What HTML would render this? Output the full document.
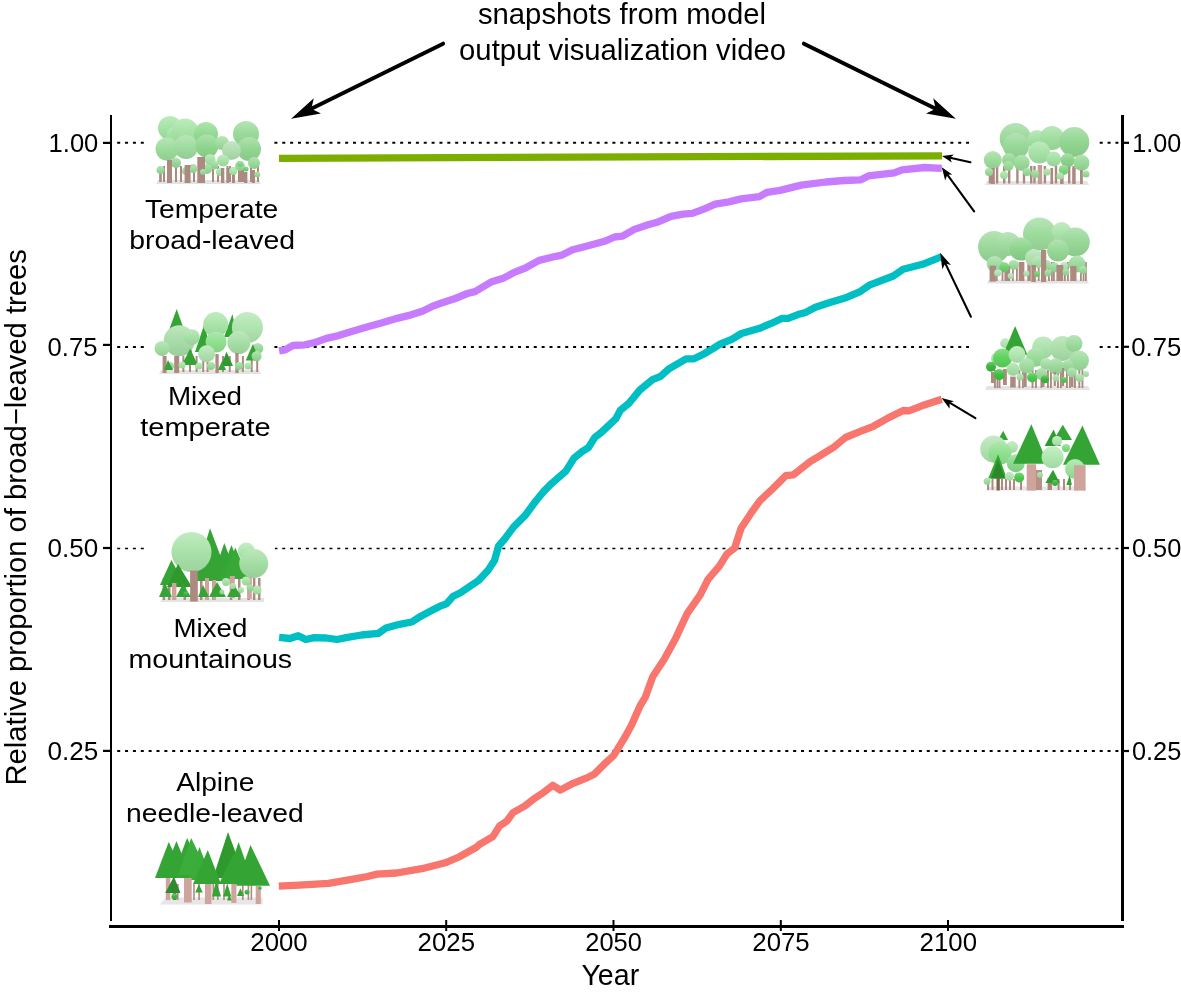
<!DOCTYPE html>
<html><head><meta charset="utf-8"><style>
html,body{margin:0;padding:0;background:#fff;width:1181px;height:999px;overflow:hidden}
svg{display:block;will-change:transform}
text{font-family:'Liberation Sans', sans-serif;fill:#000}
</style></head><body>
<svg width="1181" height="999" viewBox="0 0 1181 999">
<rect width="1181" height="999" fill="#fff"/>

<defs><linearGradient id="g3cb43c" x1="0" y1="0" x2="0" y2="1"><stop offset="0" stop-color="#72c972"/><stop offset="0.5" stop-color="#3cb43c"/><stop offset="1" stop-color="#37a737"/></linearGradient><linearGradient id="g3fc03f" x1="0" y1="0" x2="0" y2="1"><stop offset="0" stop-color="#74d174"/><stop offset="0.5" stop-color="#3fc03f"/><stop offset="1" stop-color="#3ab23a"/></linearGradient><linearGradient id="g4cc84c" x1="0" y1="0" x2="0" y2="1"><stop offset="0" stop-color="#7ed77e"/><stop offset="0.5" stop-color="#4cc84c"/><stop offset="1" stop-color="#46ba46"/></linearGradient><linearGradient id="g5cd35c" x1="0" y1="0" x2="0" y2="1"><stop offset="0" stop-color="#89df89"/><stop offset="0.5" stop-color="#5cd35c"/><stop offset="1" stop-color="#55c455"/></linearGradient><linearGradient id="g6cd36c" x1="0" y1="0" x2="0" y2="1"><stop offset="0" stop-color="#95df95"/><stop offset="0.5" stop-color="#6cd36c"/><stop offset="1" stop-color="#64c464"/></linearGradient><linearGradient id="g6fcf6f" x1="0" y1="0" x2="0" y2="1"><stop offset="0" stop-color="#97dc97"/><stop offset="0.5" stop-color="#6fcf6f"/><stop offset="1" stop-color="#67c067"/></linearGradient><linearGradient id="g7fd67f" x1="0" y1="0" x2="0" y2="1"><stop offset="0" stop-color="#a2e1a2"/><stop offset="0.5" stop-color="#7fd67f"/><stop offset="1" stop-color="#76c776"/></linearGradient><linearGradient id="g7fdc7f" x1="0" y1="0" x2="0" y2="1"><stop offset="0" stop-color="#a2e5a2"/><stop offset="0.5" stop-color="#7fdc7f"/><stop offset="1" stop-color="#76cc76"/></linearGradient><linearGradient id="g8cd28c" x1="0" y1="0" x2="0" y2="1"><stop offset="0" stop-color="#acdeac"/><stop offset="0.5" stop-color="#8cd28c"/><stop offset="1" stop-color="#82c382"/></linearGradient><linearGradient id="g8cd48c" x1="0" y1="0" x2="0" y2="1"><stop offset="0" stop-color="#ace0ac"/><stop offset="0.5" stop-color="#8cd48c"/><stop offset="1" stop-color="#82c582"/></linearGradient><linearGradient id="g8cd88c" x1="0" y1="0" x2="0" y2="1"><stop offset="0" stop-color="#ace2ac"/><stop offset="0.5" stop-color="#8cd88c"/><stop offset="1" stop-color="#82c882"/></linearGradient><linearGradient id="g8ee08e" x1="0" y1="0" x2="0" y2="1"><stop offset="0" stop-color="#ade8ad"/><stop offset="0.5" stop-color="#8ee08e"/><stop offset="1" stop-color="#84d084"/></linearGradient><linearGradient id="g8fd68f" x1="0" y1="0" x2="0" y2="1"><stop offset="0" stop-color="#aee1ae"/><stop offset="0.5" stop-color="#8fd68f"/><stop offset="1" stop-color="#84c784"/></linearGradient><linearGradient id="g8fe08f" x1="0" y1="0" x2="0" y2="1"><stop offset="0" stop-color="#aee8ae"/><stop offset="0.5" stop-color="#8fe08f"/><stop offset="1" stop-color="#84d084"/></linearGradient><linearGradient id="g92d692" x1="0" y1="0" x2="0" y2="1"><stop offset="0" stop-color="#b0e1b0"/><stop offset="0.5" stop-color="#92d692"/><stop offset="1" stop-color="#87c787"/></linearGradient><linearGradient id="g92da92" x1="0" y1="0" x2="0" y2="1"><stop offset="0" stop-color="#b0e4b0"/><stop offset="0.5" stop-color="#92da92"/><stop offset="1" stop-color="#87ca87"/></linearGradient><linearGradient id="g96d896" x1="0" y1="0" x2="0" y2="1"><stop offset="0" stop-color="#b3e2b3"/><stop offset="0.5" stop-color="#96d896"/><stop offset="1" stop-color="#8bc88b"/></linearGradient><linearGradient id="g97d897" x1="0" y1="0" x2="0" y2="1"><stop offset="0" stop-color="#b4e2b4"/><stop offset="0.5" stop-color="#97d897"/><stop offset="1" stop-color="#8cc88c"/></linearGradient><linearGradient id="g98d898" x1="0" y1="0" x2="0" y2="1"><stop offset="0" stop-color="#b4e2b4"/><stop offset="0.5" stop-color="#98d898"/><stop offset="1" stop-color="#8dc88d"/></linearGradient><linearGradient id="g98d998" x1="0" y1="0" x2="0" y2="1"><stop offset="0" stop-color="#b4e3b4"/><stop offset="0.5" stop-color="#98d998"/><stop offset="1" stop-color="#8dc98d"/></linearGradient><linearGradient id="g98da98" x1="0" y1="0" x2="0" y2="1"><stop offset="0" stop-color="#b4e4b4"/><stop offset="0.5" stop-color="#98da98"/><stop offset="1" stop-color="#8dca8d"/></linearGradient><linearGradient id="g99da99" x1="0" y1="0" x2="0" y2="1"><stop offset="0" stop-color="#b5e4b5"/><stop offset="0.5" stop-color="#99da99"/><stop offset="1" stop-color="#8eca8e"/></linearGradient><linearGradient id="g99dc99" x1="0" y1="0" x2="0" y2="1"><stop offset="0" stop-color="#b5e5b5"/><stop offset="0.5" stop-color="#99dc99"/><stop offset="1" stop-color="#8ecc8e"/></linearGradient><linearGradient id="g9ad99a" x1="0" y1="0" x2="0" y2="1"><stop offset="0" stop-color="#b6e3b6"/><stop offset="0.5" stop-color="#9ad99a"/><stop offset="1" stop-color="#8fc98f"/></linearGradient><linearGradient id="g9cda9c" x1="0" y1="0" x2="0" y2="1"><stop offset="0" stop-color="#b7e4b7"/><stop offset="0.5" stop-color="#9cda9c"/><stop offset="1" stop-color="#91ca91"/></linearGradient><linearGradient id="g9cdc9c" x1="0" y1="0" x2="0" y2="1"><stop offset="0" stop-color="#b7e5b7"/><stop offset="0.5" stop-color="#9cdc9c"/><stop offset="1" stop-color="#91cc91"/></linearGradient><linearGradient id="g9ddc9d" x1="0" y1="0" x2="0" y2="1"><stop offset="0" stop-color="#b8e5b8"/><stop offset="0.5" stop-color="#9ddc9d"/><stop offset="1" stop-color="#92cc92"/></linearGradient><linearGradient id="g9edc9e" x1="0" y1="0" x2="0" y2="1"><stop offset="0" stop-color="#b9e5b9"/><stop offset="0.5" stop-color="#9edc9e"/><stop offset="1" stop-color="#92cc92"/></linearGradient><linearGradient id="g9fdc9f" x1="0" y1="0" x2="0" y2="1"><stop offset="0" stop-color="#b9e5b9"/><stop offset="0.5" stop-color="#9fdc9f"/><stop offset="1" stop-color="#93cc93"/></linearGradient><linearGradient id="ga0dca0" x1="0" y1="0" x2="0" y2="1"><stop offset="0" stop-color="#bae5ba"/><stop offset="0.5" stop-color="#a0dca0"/><stop offset="1" stop-color="#94cc94"/></linearGradient><linearGradient id="ga0df9f" x1="0" y1="0" x2="0" y2="1"><stop offset="0" stop-color="#bae7b9"/><stop offset="0.5" stop-color="#a0df9f"/><stop offset="1" stop-color="#94cf93"/></linearGradient><linearGradient id="ga0e0a0" x1="0" y1="0" x2="0" y2="1"><stop offset="0" stop-color="#bae8ba"/><stop offset="0.5" stop-color="#a0e0a0"/><stop offset="1" stop-color="#94d094"/></linearGradient><linearGradient id="ga0e2a0" x1="0" y1="0" x2="0" y2="1"><stop offset="0" stop-color="#baeaba"/><stop offset="0.5" stop-color="#a0e2a0"/><stop offset="1" stop-color="#94d294"/></linearGradient><linearGradient id="ga2e0a2" x1="0" y1="0" x2="0" y2="1"><stop offset="0" stop-color="#bce8bc"/><stop offset="0.5" stop-color="#a2e0a2"/><stop offset="1" stop-color="#96d096"/></linearGradient><linearGradient id="ga3dea3" x1="0" y1="0" x2="0" y2="1"><stop offset="0" stop-color="#bce7bc"/><stop offset="0.5" stop-color="#a3dea3"/><stop offset="1" stop-color="#97ce97"/></linearGradient><linearGradient id="ga3e4a3" x1="0" y1="0" x2="0" y2="1"><stop offset="0" stop-color="#bcebbc"/><stop offset="0.5" stop-color="#a3e4a3"/><stop offset="1" stop-color="#97d497"/></linearGradient><linearGradient id="ga4dea4" x1="0" y1="0" x2="0" y2="1"><stop offset="0" stop-color="#bde7bd"/><stop offset="0.5" stop-color="#a4dea4"/><stop offset="1" stop-color="#98ce98"/></linearGradient><linearGradient id="ga4e0a4" x1="0" y1="0" x2="0" y2="1"><stop offset="0" stop-color="#bde8bd"/><stop offset="0.5" stop-color="#a4e0a4"/><stop offset="1" stop-color="#98d098"/></linearGradient><linearGradient id="ga5dfa5" x1="0" y1="0" x2="0" y2="1"><stop offset="0" stop-color="#bee7be"/><stop offset="0.5" stop-color="#a5dfa5"/><stop offset="1" stop-color="#99cf99"/></linearGradient><linearGradient id="ga5e0a5" x1="0" y1="0" x2="0" y2="1"><stop offset="0" stop-color="#bee8be"/><stop offset="0.5" stop-color="#a5e0a5"/><stop offset="1" stop-color="#99d099"/></linearGradient><linearGradient id="ga6e0a6" x1="0" y1="0" x2="0" y2="1"><stop offset="0" stop-color="#bee8be"/><stop offset="0.5" stop-color="#a6e0a6"/><stop offset="1" stop-color="#9ad09a"/></linearGradient><linearGradient id="ga6e2a6" x1="0" y1="0" x2="0" y2="1"><stop offset="0" stop-color="#beeabe"/><stop offset="0.5" stop-color="#a6e2a6"/><stop offset="1" stop-color="#9ad29a"/></linearGradient><linearGradient id="ga6e3a6" x1="0" y1="0" x2="0" y2="1"><stop offset="0" stop-color="#beeabe"/><stop offset="0.5" stop-color="#a6e3a6"/><stop offset="1" stop-color="#9ad39a"/></linearGradient><linearGradient id="ga8dca8" x1="0" y1="0" x2="0" y2="1"><stop offset="0" stop-color="#c0e5c0"/><stop offset="0.5" stop-color="#a8dca8"/><stop offset="1" stop-color="#9ccc9c"/></linearGradient><linearGradient id="ga8e0a8" x1="0" y1="0" x2="0" y2="1"><stop offset="0" stop-color="#c0e8c0"/><stop offset="0.5" stop-color="#a8e0a8"/><stop offset="1" stop-color="#9cd09c"/></linearGradient><linearGradient id="ga8e4a8" x1="0" y1="0" x2="0" y2="1"><stop offset="0" stop-color="#c0ebc0"/><stop offset="0.5" stop-color="#a8e4a8"/><stop offset="1" stop-color="#9cd49c"/></linearGradient><linearGradient id="ga9e2a9" x1="0" y1="0" x2="0" y2="1"><stop offset="0" stop-color="#c1eac1"/><stop offset="0.5" stop-color="#a9e2a9"/><stop offset="1" stop-color="#9dd29d"/></linearGradient><linearGradient id="gaadfaa" x1="0" y1="0" x2="0" y2="1"><stop offset="0" stop-color="#c1e7c1"/><stop offset="0.5" stop-color="#aadfaa"/><stop offset="1" stop-color="#9ecf9e"/></linearGradient><linearGradient id="gace2ac" x1="0" y1="0" x2="0" y2="1"><stop offset="0" stop-color="#c3eac3"/><stop offset="0.5" stop-color="#ace2ac"/><stop offset="1" stop-color="#9fd29f"/></linearGradient><linearGradient id="gace4ac" x1="0" y1="0" x2="0" y2="1"><stop offset="0" stop-color="#c3ebc3"/><stop offset="0.5" stop-color="#ace4ac"/><stop offset="1" stop-color="#9fd49f"/></linearGradient><linearGradient id="gb0ddb0" x1="0" y1="0" x2="0" y2="1"><stop offset="0" stop-color="#c6e6c6"/><stop offset="0.5" stop-color="#b0ddb0"/><stop offset="1" stop-color="#a3cda3"/></linearGradient><linearGradient id="gb0e0b0" x1="0" y1="0" x2="0" y2="1"><stop offset="0" stop-color="#c6e8c6"/><stop offset="0.5" stop-color="#b0e0b0"/><stop offset="1" stop-color="#a3d0a3"/></linearGradient><linearGradient id="gb0e2b0" x1="0" y1="0" x2="0" y2="1"><stop offset="0" stop-color="#c6eac6"/><stop offset="0.5" stop-color="#b0e2b0"/><stop offset="1" stop-color="#a3d2a3"/></linearGradient><linearGradient id="gb0e4b0" x1="0" y1="0" x2="0" y2="1"><stop offset="0" stop-color="#c6ebc6"/><stop offset="0.5" stop-color="#b0e4b0"/><stop offset="1" stop-color="#a3d4a3"/></linearGradient><linearGradient id="gb0e6b0" x1="0" y1="0" x2="0" y2="1"><stop offset="0" stop-color="#c6edc6"/><stop offset="0.5" stop-color="#b0e6b0"/><stop offset="1" stop-color="#a3d5a3"/></linearGradient><linearGradient id="gb0e8b0" x1="0" y1="0" x2="0" y2="1"><stop offset="0" stop-color="#c6eec6"/><stop offset="0.5" stop-color="#b0e8b0"/><stop offset="1" stop-color="#a3d7a3"/></linearGradient><linearGradient id="gb4e6b4" x1="0" y1="0" x2="0" y2="1"><stop offset="0" stop-color="#c9edc9"/><stop offset="0.5" stop-color="#b4e6b4"/><stop offset="1" stop-color="#a7d5a7"/></linearGradient></defs>
<line x1="117.2" y1="142.8" x2="1120" y2="142.8" stroke="#000" stroke-width="2" stroke-dasharray="3 4.86"/>
<line x1="117.2" y1="347" x2="1120" y2="347" stroke="#000" stroke-width="2" stroke-dasharray="3 4.86"/>
<line x1="117.2" y1="548.4" x2="1120" y2="548.4" stroke="#000" stroke-width="1.5" stroke-dasharray="3 4.86"/>
<line x1="117.2" y1="750.9" x2="1120" y2="750.9" stroke="#000" stroke-width="2" stroke-dasharray="3 4.86"/>
<rect x="145" y="118" width="129" height="70" fill="#fff"/>
<rect x="145" y="305" width="129" height="71" fill="#fff"/>
<rect x="145" y="525" width="130" height="79" fill="#fff"/>
<rect x="145" y="828" width="135" height="80" fill="#fff"/>
<rect x="969" y="118" width="130" height="70" fill="#fff"/>
<rect x="969" y="215" width="130" height="71" fill="#fff"/>
<rect x="969" y="322" width="130" height="70" fill="#fff"/>
<rect x="969" y="420" width="141" height="74" fill="#fff"/>
<g><polygon points="158,180 259,180 261,184 156,184" fill="#e3e3e3"/><rect x="159.5" y="166" width="2" height="16" fill="#ad8a80"/><rect x="163" y="166" width="2" height="16" fill="#ad8a80"/><rect x="175" y="166" width="2" height="16" fill="#ad8a80"/><rect x="180" y="166" width="2" height="16" fill="#ad8a80"/><rect x="193" y="166" width="2" height="16" fill="#ad8a80"/><rect x="212" y="166" width="2" height="16" fill="#ad8a80"/><rect x="217" y="166" width="2" height="16" fill="#ad8a80"/><rect x="226.5" y="166" width="2" height="16" fill="#ad8a80"/><rect x="229" y="166" width="2" height="16" fill="#ad8a80"/><rect x="238" y="166" width="2" height="16" fill="#ad8a80"/><rect x="240" y="166" width="2" height="16" fill="#ad8a80"/><rect x="242" y="166" width="2" height="16" fill="#ad8a80"/><rect x="250" y="166" width="2" height="16" fill="#ad8a80"/><rect x="257" y="166" width="2" height="16" fill="#ad8a80"/><circle cx="176" cy="163" r="5" fill="url(#g98da98)"/><circle cx="193" cy="168" r="4" fill="url(#g98da98)"/><circle cx="214" cy="165" r="4.5" fill="url(#ga6e3a6)"/><circle cx="207" cy="169" r="5" fill="url(#g98da98)"/><circle cx="233" cy="171" r="4" fill="url(#g98da98)"/><circle cx="240" cy="166" r="5" fill="url(#g98da98)"/><circle cx="186" cy="171" r="4" fill="url(#g98da98)"/><circle cx="220" cy="172" r="4" fill="url(#ga6e3a6)"/><circle cx="170" cy="128" r="12" fill="url(#ga3e4a3)"/><circle cx="176" cy="136" r="10" fill="url(#ga0e2a0)"/><circle cx="167" cy="149" r="11.5" fill="url(#g9cdc9c)"/><circle cx="185" cy="132" r="13.5" fill="url(#ga6e2a6)"/><circle cx="186" cy="147" r="12" fill="url(#g9edc9e)"/><circle cx="206" cy="134" r="12" fill="url(#g92da92)"/><circle cx="207" cy="146" r="11.5" fill="url(#g8fd68f)"/><circle cx="222" cy="143" r="7" fill="url(#ga0dca0)"/><circle cx="246" cy="134" r="13" fill="url(#g99da99)"/><circle cx="249" cy="149" r="12" fill="url(#g92d692)"/><circle cx="231.5" cy="150.5" r="9.5" fill="url(#gb0ddb0)"/><circle cx="210" cy="159.5" r="5.5" fill="url(#ga6e3a6)"/><circle cx="223" cy="160.5" r="6" fill="url(#ga6e3a6)"/><circle cx="254" cy="163" r="6" fill="url(#g98da98)"/><circle cx="175.8" cy="162.8" r="5" fill="url(#g96d896)"/><rect x="167" y="160" width="5" height="23" fill="#ad8a80"/><rect x="184.6" y="165" width="6" height="18" fill="#ad8a80"/><rect x="197.3" y="157" width="7.7" height="26" fill="#ad8a80"/><rect x="221" y="168" width="3.3" height="15" fill="#ad8a80"/><rect x="226.5" y="168" width="2.7" height="15" fill="#ad8a80"/><rect x="232" y="170" width="3" height="13" fill="#ad8a80"/><rect x="244" y="172" width="3.4" height="11" fill="#ad8a80"/><rect x="251.8" y="170" width="3.2" height="13" fill="#ad8a80"/><rect x="159.3" y="172" width="2.2" height="10" fill="#ad8a80"/><circle cx="160.5" cy="170" r="4" fill="url(#g98da98)"/><circle cx="233" cy="171.6" r="3.5" fill="url(#ga6e3a6)"/><circle cx="257.3" cy="174.4" r="3" fill="url(#g98da98)"/><circle cx="214.3" cy="165" r="3.5" fill="url(#g98da98)"/><circle cx="193.4" cy="169.4" r="3.5" fill="url(#g98da98)"/><circle cx="246" cy="169" r="2.5" fill="url(#g6cd36c)"/><circle cx="240" cy="164" r="3" fill="url(#g7fd67f)"/><circle cx="203" cy="172" r="3" fill="url(#g98da98)"/></g>
<g><polygon points="161,370 259,370 261,374 159,374" fill="#e3e3e3"/><rect x="182.4" y="356" width="2" height="16" fill="#ad8a80"/><rect x="189" y="356" width="2" height="16" fill="#ad8a80"/><rect x="195.6" y="356" width="2" height="16" fill="#ad8a80"/><rect x="202.2" y="356" width="2" height="16" fill="#ad8a80"/><rect x="206.6" y="356" width="2" height="16" fill="#ad8a80"/><rect x="222" y="356" width="2" height="16" fill="#ad8a80"/><rect x="228.7" y="356" width="2" height="16" fill="#ad8a80"/><rect x="241.9" y="356" width="2" height="16" fill="#ad8a80"/><rect x="250.7" y="356" width="2" height="16" fill="#ad8a80"/><rect x="256.2" y="356" width="2" height="16" fill="#ad8a80"/><polygon points="176.7,309 192,352 161,352" fill="#34a534"/><polygon points="204.4,324 211,352 195,352" fill="#34a534"/><polygon points="232.5,314 237,337 224,337" fill="#34a534"/><circle cx="215.7" cy="324.5" r="12.5" fill="url(#ga8e4a8)"/><circle cx="247.4" cy="327.5" r="15.5" fill="url(#gb0e4b0)"/><circle cx="179.2" cy="340.7" r="15.5" fill="url(#ga8dca8)"/><circle cx="191.8" cy="337.2" r="8" fill="url(#ga5e0a5)"/><circle cx="162" cy="348.4" r="7.5" fill="url(#ga3dea3)"/><circle cx="216" cy="342" r="10.5" fill="url(#g8fe08f)"/><circle cx="238.8" cy="342.6" r="11.5" fill="url(#ga5dfa5)"/><circle cx="257.8" cy="348.4" r="5.5" fill="url(#g98da98)"/><circle cx="206.6" cy="353.7" r="8.5" fill="url(#gb0e2b0)"/><rect x="162.6" y="356" width="4" height="17" fill="#ad8a80"/><rect x="174.2" y="356" width="5" height="17" fill="#ad8a80"/><rect x="215.4" y="354" width="3.3" height="19" fill="#ad8a80"/><rect x="235.3" y="353" width="3.3" height="20" fill="#ad8a80"/><polygon points="190.1,348.4 197.8,365 181.9,365" fill="#34a534"/><polygon points="226.5,351.7 233,366 221,366" fill="#2e9a2e"/><polygon points="252.9,344 259.5,360.5 245.7,360.5" fill="#34a534"/><circle cx="256.6" cy="356.1" r="5" fill="url(#g98da98)"/><circle cx="170" cy="366" r="4" fill="url(#g98da98)"/><circle cx="182" cy="365" r="3.5" fill="url(#ga6e3a6)"/><circle cx="199" cy="366" r="3.5" fill="url(#ga6e3a6)"/><circle cx="211" cy="366" r="4" fill="url(#g98da98)"/><circle cx="239" cy="366" r="4" fill="url(#g98da98)"/><circle cx="248" cy="366" r="3.5" fill="url(#ga6e3a6)"/><polygon points="168,360 173,370 164,370" fill="#34a534"/><polygon points="222,361 226,370 218,370" fill="#34a534"/></g>
<g><polygon points="163,598 264,598 264,602 160,602" fill="#e4e4e4"/><rect x="162.6" y="578" width="2.5" height="22" fill="#ad8a80"/><rect x="183.5" y="578" width="2.5" height="22" fill="#ad8a80"/><rect x="205" y="578" width="2.5" height="22" fill="#ad8a80"/><rect x="212.1" y="578" width="2.5" height="22" fill="#ad8a80"/><rect x="229.8" y="578" width="2.5" height="22" fill="#ad8a80"/><rect x="247.4" y="578" width="2.5" height="22" fill="#ad8a80"/><rect x="252.9" y="578" width="2.5" height="22" fill="#ad8a80"/><rect x="168" y="578" width="2.5" height="22" fill="#ad8a80"/><rect x="200" y="578" width="2.5" height="22" fill="#ad8a80"/><rect x="238" y="578" width="2.5" height="22" fill="#ad8a80"/><rect x="258" y="578" width="2.5" height="22" fill="#ad8a80"/><polygon points="210,528.3 230,581 194,581" fill="#34a534"/><polygon points="224.3,543 238,579 212,579" fill="#34a534"/><polygon points="231.4,545 245,579 219,579" fill="#36a636"/><polygon points="235.3,547.5 249,579 223,579" fill="#38a838"/><circle cx="246.3" cy="551" r="8.5" fill="url(#gb0e6b0)"/><circle cx="191.5" cy="552" r="20" fill="url(#ga9e2a9)"/><circle cx="253.7" cy="563.4" r="14.5" fill="url(#ga4dea4)"/><polygon points="171.4,560 185,585 160,585" fill="#34a534"/><polygon points="178,564 192,587 167,587" fill="#2e9a2e"/><rect x="190.1" y="570.6" width="7.7" height="31" fill="#ad8a80"/><rect x="172" y="583" width="4.4" height="17" fill="#cfa49c"/><rect x="247.4" y="577" width="4.4" height="22" fill="#cfa49c"/><rect x="229.8" y="576" width="5" height="22" fill="#cfa49c"/><rect x="205" y="578" width="4" height="22" fill="#cfa49c"/><rect x="212.5" y="580" width="3.5" height="20" fill="#cfa49c"/><polygon points="165,583 172,597 159,597" fill="#34a534"/><polygon points="183,584 191,597 176,597" fill="#34a534"/><polygon points="203,585 209,597 198,597" fill="#34a534"/><polygon points="217,582 226,597 209,597" fill="#34a534"/><polygon points="234,584 241,597 227,597" fill="#34a534"/><circle cx="226" cy="582" r="4" fill="url(#ga8e0a8)"/><circle cx="233" cy="586" r="3" fill="url(#ga6e3a6)"/><circle cx="246" cy="581" r="4.5" fill="url(#ga6e3a6)"/><circle cx="257" cy="590" r="4.5" fill="url(#ga6e3a6)"/><circle cx="250" cy="588" r="3.5" fill="url(#g98da98)"/><circle cx="241" cy="590" r="3" fill="url(#ga6e3a6)"/><circle cx="222" cy="592" r="2.5" fill="url(#g98da98)"/><circle cx="186" cy="594" r="2.5" fill="url(#g3cb43c)"/></g>
<g><polygon points="166,897.4 262.8,897.4 262.8,904.6 159.7,904.6" fill="#e6e6e6"/><rect x="177" y="884" width="1.6" height="16" fill="#b08a80"/><rect x="193.2" y="884" width="1.6" height="16" fill="#b08a80"/><rect x="198.3" y="884" width="1.6" height="16" fill="#b08a80"/><rect x="212.5" y="884" width="1.6" height="16" fill="#b08a80"/><rect x="217" y="884" width="1.6" height="16" fill="#b08a80"/><rect x="223.2" y="884" width="1.6" height="16" fill="#b08a80"/><rect x="242" y="884" width="1.6" height="16" fill="#b08a80"/><rect x="247.6" y="884" width="1.6" height="16" fill="#b08a80"/><rect x="250.6" y="884" width="1.6" height="16" fill="#b08a80"/><rect x="165.8" y="878" width="4.5" height="22" fill="#cfa49c"/><rect x="172.9" y="890" width="3.5" height="10" fill="#8a6a58"/><polygon points="168.7,842 186,878 155,878" fill="#34a534"/><polygon points="176.4,841 191,876 163,876" fill="#34a534"/><polygon points="187.1,838 206,878 172,878" fill="#34a534"/><polygon points="191.2,838 209,875 178,875" fill="#3bad3b"/><polygon points="199.5,847 212,880 188,880" fill="#3aac3a"/><polygon points="228,832 245,878 213,878" fill="#2e9a2e"/><polygon points="238.6,842 252,880 226,880" fill="#34a534"/><polygon points="250.5,845 270,885.8 236,885.8" fill="#34a534"/><polygon points="207.8,850 221,884 193,884" fill="#34a534"/><polygon points="233.3,854 246,884 219,884" fill="#34a534"/><polygon points="173.9,876.6 180.5,892.9 165.2,892.9" fill="#2e8b2e"/><rect x="184" y="878" width="7.7" height="24.5" fill="#cfa49c"/><rect x="204.9" y="884" width="6.6" height="20" fill="#cfa49c"/><rect x="231.3" y="884" width="5.1" height="19" fill="#cfa49c"/><rect x="255.7" y="886" width="5.1" height="18" fill="#cfa49c"/><polygon points="198.8,884.2 202.8,892.4 195.2,892.4" fill="#34a534"/><polygon points="216.1,881.2 221.1,896.4 212,896.4" fill="#34a534"/><polygon points="227.2,883.2 231.3,896.4 223.2,896.4" fill="#34a534"/><polygon points="240.4,888.3 244,896 237,896" fill="#34a534"/><polygon points="229.3,893.4 231.6,900.5 227,900.5" fill="#34a534"/><circle cx="174.4" cy="896.4" r="3" fill="url(#g3cb43c)"/><circle cx="260" cy="888" r="1.8" fill="url(#g3cb43c)"/><circle cx="247" cy="892" r="2.5" fill="url(#g3cb43c)"/></g>
<g><polygon points="987,181 1087,181 1089,185 985,185" fill="#e3e3e3"/><rect x="988.7" y="166" width="2.4" height="17.5" fill="#ad8a80"/><rect x="995.9" y="166" width="2.4" height="17.5" fill="#ad8a80"/><rect x="1003" y="166" width="2.4" height="17.5" fill="#ad8a80"/><rect x="1008" y="166" width="2.4" height="17.5" fill="#ad8a80"/><rect x="1016.2" y="166" width="2.4" height="17.5" fill="#ad8a80"/><rect x="1022.8" y="166" width="2.4" height="17.5" fill="#ad8a80"/><rect x="1030" y="166" width="2.4" height="17.5" fill="#ad8a80"/><rect x="1033.3" y="166" width="2.4" height="17.5" fill="#ad8a80"/><rect x="1043.7" y="166" width="2.4" height="17.5" fill="#ad8a80"/><rect x="1054.8" y="166" width="2.4" height="17.5" fill="#ad8a80"/><rect x="1060.3" y="166" width="2.4" height="17.5" fill="#ad8a80"/><rect x="1068" y="166" width="2.4" height="17.5" fill="#ad8a80"/><rect x="1072.4" y="166" width="2.4" height="17.5" fill="#ad8a80"/><rect x="1080" y="166" width="2.4" height="17.5" fill="#ad8a80"/><circle cx="1015.4" cy="138.6" r="15.7" fill="url(#g9ad99a)"/><circle cx="1016" cy="146" r="13" fill="url(#g98d898)"/><circle cx="1037" cy="140" r="10" fill="url(#ga2e0a2)"/><circle cx="1052" cy="138" r="12" fill="url(#ga0df9f)"/><circle cx="1074.3" cy="142" r="15" fill="url(#g92d692)"/><circle cx="1039.3" cy="152.5" r="11" fill="url(#ga6e2a6)"/><circle cx="992.8" cy="160" r="9" fill="url(#g9cdc9c)"/><circle cx="1009" cy="160" r="7" fill="url(#g96d896)"/><circle cx="1021.7" cy="162.8" r="8" fill="url(#g9ad99a)"/><circle cx="1053.7" cy="159" r="7.5" fill="url(#ga4e0a4)"/><circle cx="1067.7" cy="160.3" r="7" fill="url(#g8cd28c)"/><circle cx="1081.5" cy="162.8" r="8" fill="url(#g98d998)"/><rect x="990.9" y="168" width="3.9" height="16" fill="#ad8a80"/><rect x="1037.7" y="165" width="4.4" height="19" fill="#c29e96"/><rect x="1050.4" y="168" width="2.7" height="16" fill="#ad8a80"/><rect x="1072.4" y="168" width="3.3" height="16" fill="#ad8a80"/><rect x="1080" y="170" width="2.8" height="14" fill="#ad8a80"/><rect x="1060.3" y="170" width="3.3" height="14" fill="#ad8a80"/><circle cx="1063.7" cy="169.9" r="5" fill="url(#g7fd67f)"/><circle cx="1008.5" cy="165.9" r="5" fill="url(#g98da98)"/><circle cx="989" cy="172" r="4" fill="url(#g98da98)"/><circle cx="1004" cy="175" r="4" fill="url(#ga6e3a6)"/><circle cx="1035" cy="174" r="4" fill="url(#g98da98)"/><circle cx="1060" cy="176" r="3.5" fill="url(#ga6e3a6)"/><circle cx="1086" cy="174" r="3.5" fill="url(#g98da98)"/><circle cx="1027" cy="172" r="4" fill="url(#g98da98)"/><circle cx="1047" cy="172" r="3.5" fill="url(#ga6e3a6)"/></g>
<g><polygon points="989,279.5 1087,279.5 1089,283.5 987,283.5" fill="#e3e3e3"/><rect x="995.9" y="262" width="1.8" height="19" fill="#ad8a80"/><rect x="1001.6" y="262" width="1.8" height="19" fill="#ad8a80"/><rect x="1012" y="262" width="1.8" height="19" fill="#ad8a80"/><rect x="1016" y="262" width="1.8" height="19" fill="#ad8a80"/><rect x="1027.3" y="262" width="1.8" height="19" fill="#ad8a80"/><rect x="1029" y="262" width="1.8" height="19" fill="#ad8a80"/><rect x="1037.8" y="262" width="1.8" height="19" fill="#ad8a80"/><rect x="1048" y="262" width="1.8" height="19" fill="#ad8a80"/><rect x="1051" y="262" width="1.8" height="19" fill="#ad8a80"/><rect x="1053" y="262" width="1.8" height="19" fill="#ad8a80"/><rect x="1064" y="262" width="1.8" height="19" fill="#ad8a80"/><rect x="1067" y="262" width="1.8" height="19" fill="#ad8a80"/><rect x="1080" y="262" width="1.8" height="19" fill="#ad8a80"/><rect x="1082.7" y="262" width="1.8" height="19" fill="#ad8a80"/><rect x="1085" y="262" width="1.8" height="19" fill="#ad8a80"/><circle cx="1039.5" cy="234" r="16.5" fill="url(#g9ddc9d)"/><circle cx="1061.6" cy="232" r="10" fill="url(#gace4ac)"/><circle cx="1075.3" cy="242" r="14.5" fill="url(#g97d897)"/><circle cx="994" cy="247" r="16" fill="url(#g9ad99a)"/><circle cx="1008" cy="244" r="12" fill="url(#ga0dca0)"/><circle cx="1021" cy="249" r="11.5" fill="url(#g8cd48c)"/><circle cx="1058" cy="250.5" r="11" fill="url(#g96d896)"/><circle cx="1034" cy="258" r="9" fill="url(#gb0e0b0)"/><circle cx="994.7" cy="264" r="8" fill="url(#ga0dca0)"/><circle cx="1077" cy="264" r="8.5" fill="url(#g9cda9c)"/><circle cx="1038" cy="262" r="6" fill="url(#ga8e0a8)"/><circle cx="1013.6" cy="264.9" r="5" fill="url(#g9cdc9c)"/><circle cx="1046.2" cy="265" r="5" fill="url(#ga0dca0)"/><circle cx="1054.6" cy="267.4" r="5" fill="url(#g9ad99a)"/><circle cx="1064" cy="266" r="4" fill="url(#gb0e2b0)"/><rect x="989.6" y="265.6" width="6.3" height="16" fill="#ad8a80"/><rect x="1004.4" y="266" width="5.8" height="15" fill="#ad8a80"/><rect x="1018.7" y="262" width="5.7" height="19" fill="#ad8a80"/><rect x="1031.3" y="265" width="4.6" height="17" fill="#ad8a80"/><rect x="1041" y="250" width="5.2" height="32" fill="#ad8a80"/><rect x="1056.4" y="265" width="6.9" height="16" fill="#ad8a80"/><rect x="1070.2" y="266" width="6.3" height="15" fill="#ad8a80"/><circle cx="1004.4" cy="267.3" r="5" fill="url(#g6fcf6f)"/><circle cx="997.6" cy="273" r="3.5" fill="url(#gb0e2b0)"/><circle cx="1010.7" cy="276" r="3" fill="url(#gb0e2b0)"/><circle cx="1026.4" cy="273.5" r="3" fill="url(#gb0e2b0)"/><circle cx="1048" cy="273" r="3.5" fill="url(#g98da98)"/><circle cx="1066" cy="272" r="3.5" fill="url(#g98da98)"/><circle cx="1083" cy="270" r="4" fill="url(#g98da98)"/><circle cx="1037" cy="274" r="3" fill="url(#g6fcf6f)"/></g>
<g><polygon points="987,386 1088,386 1090,390 985,390" fill="#e3e3e3"/><rect x="994" y="370" width="1.9" height="18" fill="#ad8a80"/><rect x="996.5" y="370" width="1.9" height="18" fill="#ad8a80"/><rect x="998.6" y="370" width="1.9" height="18" fill="#ad8a80"/><rect x="1018.4" y="370" width="1.9" height="18" fill="#ad8a80"/><rect x="1022" y="370" width="1.9" height="18" fill="#ad8a80"/><rect x="1031.6" y="370" width="1.9" height="18" fill="#ad8a80"/><rect x="1035" y="370" width="1.9" height="18" fill="#ad8a80"/><rect x="1040.4" y="370" width="1.9" height="18" fill="#ad8a80"/><rect x="1047" y="370" width="1.9" height="18" fill="#ad8a80"/><rect x="1050" y="370" width="1.9" height="18" fill="#ad8a80"/><rect x="1057" y="370" width="1.9" height="18" fill="#ad8a80"/><rect x="1060" y="370" width="1.9" height="18" fill="#ad8a80"/><rect x="1066" y="370" width="1.9" height="18" fill="#ad8a80"/><rect x="1069" y="370" width="1.9" height="18" fill="#ad8a80"/><rect x="1074" y="370" width="1.9" height="18" fill="#ad8a80"/><rect x="1078.4" y="370" width="1.9" height="18" fill="#ad8a80"/><rect x="1081.5" y="370" width="1.9" height="18" fill="#ad8a80"/><circle cx="1005.2" cy="343.2" r="5" fill="url(#gb0e6b0)"/><polygon points="1015.1,326 1027.5,355 1003,355" fill="#34a534"/><circle cx="1043.2" cy="347.5" r="11" fill="url(#gace2ac)"/><circle cx="1062.5" cy="348.5" r="12.5" fill="url(#gaadfaa)"/><circle cx="1074" cy="343.5" r="8.5" fill="url(#g9fdc9f)"/><circle cx="997" cy="358.6" r="6" fill="url(#ga6e0a6)"/><circle cx="1002.5" cy="358" r="9.5" fill="url(#g5cd35c)"/><circle cx="991" cy="366.7" r="5" fill="url(#g3cb43c)"/><circle cx="1017" cy="354.6" r="8.5" fill="url(#gb0e6b0)"/><circle cx="1035.7" cy="357.3" r="9.5" fill="url(#g99dc99)"/><circle cx="1079" cy="360.6" r="10" fill="url(#g9ddc9d)"/><circle cx="1055.9" cy="366.3" r="8" fill="url(#g9ad99a)"/><circle cx="1026.8" cy="365.7" r="7.7" fill="url(#ga0dca0)"/><circle cx="1046" cy="364" r="6" fill="url(#ga4dea4)"/><circle cx="1068" cy="366" r="6" fill="url(#g9ad99a)"/><rect x="991" y="372" width="3.8" height="11" fill="#ad8a80"/><rect x="1003" y="369" width="3.9" height="16" fill="#ad8a80"/><rect x="1010.2" y="376.6" width="5.5" height="11" fill="#ad8a80"/><rect x="1024" y="373" width="2.7" height="14" fill="#ad8a80"/><rect x="1053.7" y="372" width="2.2" height="14" fill="#ad8a80"/><rect x="1061.9" y="368" width="2.2" height="18" fill="#ad8a80"/><rect x="1042" y="376" width="2.5" height="11" fill="#ad8a80"/><rect x="1071" y="376" width="2.5" height="11" fill="#ad8a80"/><circle cx="1013" cy="369.3" r="6.5" fill="url(#ga6e0a6)"/><circle cx="999.2" cy="374.5" r="5.5" fill="url(#g3fc03f)"/><circle cx="1041.4" cy="374" r="6" fill="url(#g9ad99a)"/><circle cx="1071.8" cy="372.5" r="5" fill="url(#ga0dca0)"/><circle cx="1032.1" cy="377.4" r="5" fill="url(#g4cc84c)"/><circle cx="1044.9" cy="379.3" r="4" fill="url(#g3cb43c)"/><circle cx="1079.4" cy="377.8" r="4" fill="url(#ga6e0a6)"/><circle cx="1020" cy="377" r="3.5" fill="url(#ga6e0a6)"/><circle cx="1056" cy="378" r="3.5" fill="url(#ga6e0a6)"/><circle cx="1064" cy="380" r="3" fill="url(#g4cc84c)"/><circle cx="1086" cy="374" r="3" fill="url(#ga6e0a6)"/></g>
<g><polygon points="990,486.5 1086.2,486.5 1086.2,490.6 984.9,490.6" fill="#e6e6e6"/><rect x="987.1" y="479" width="2" height="11" fill="#b08a80"/><rect x="991.5" y="479" width="2" height="11" fill="#b08a80"/><rect x="1001" y="479" width="2" height="11" fill="#b08a80"/><rect x="1005" y="479" width="2" height="11" fill="#b08a80"/><rect x="1009" y="479" width="2" height="11" fill="#b08a80"/><rect x="1013" y="479" width="2" height="11" fill="#b08a80"/><rect x="1020" y="479" width="2" height="11" fill="#b08a80"/><rect x="1057.6" y="479" width="2" height="11" fill="#b08a80"/><rect x="1063" y="479" width="2" height="11" fill="#b08a80"/><rect x="1069" y="479" width="2" height="11" fill="#b08a80"/><polygon points="1003.2,430.7 1008,440 998,440" fill="#34a534"/><circle cx="993.7" cy="449" r="13.5" fill="url(#gb0e2b0)"/><circle cx="1012" cy="447" r="6" fill="url(#gb4e6b4)"/><circle cx="1000" cy="453.2" r="11.5" fill="url(#g8ee08e)"/><polygon points="1053.6,429.6 1060.7,446 1044.7,446" fill="#2e9a2e"/><polygon points="1062.8,424.8 1072,440 1053.5,440" fill="#34a534"/><circle cx="1057" cy="440.9" r="5" fill="url(#gb0e6b0)"/><circle cx="1066" cy="448" r="4" fill="url(#g7fdc7f)"/><circle cx="1015.8" cy="463.2" r="9" fill="url(#g8cd88c)"/><polygon points="1031.4,424.2 1047.6,463.7 1013,463.7" fill="#34a534"/><circle cx="1052.6" cy="457.2" r="11" fill="url(#gb0e8b0)"/><polygon points="1082.4,425.4 1099.9,464.8 1063,464.8" fill="#34a534"/><circle cx="1075" cy="469" r="10" fill="url(#ga0e0a0)"/><polygon points="998.1,454.3 1006.9,478.5 988.2,478.5" fill="#33a833"/><polygon points="998.1,460 1005,478.5 991,478.5" fill="#2a8a2a"/><rect x="1026.7" y="464.2" width="9.4" height="26.4" fill="#cfa49c"/><rect x="1074" y="465.3" width="11.6" height="25.3" fill="#cfa49c"/><rect x="996.5" y="478" width="3.3" height="12.5" fill="#80654f"/><rect x="1036" y="470" width="6" height="20" fill="#b89088"/><rect x="1047.6" y="478" width="4.4" height="12" fill="#a8847a"/><polygon points="1053,469.7 1059.8,482.9 1045.4,482.9" fill="#2f9c2f"/><polygon points="1069.6,475.2 1071.9,485 1066.3,485" fill="#34a534"/><circle cx="1009.4" cy="476.3" r="4.5" fill="url(#gb0e2b0)"/><circle cx="1019.2" cy="477.4" r="5" fill="url(#g4cc84c)"/><circle cx="987.1" cy="481.3" r="3.5" fill="url(#ga0dca0)"/><circle cx="1040" cy="475" r="3" fill="url(#ga0dca0)"/><circle cx="1055" cy="483" r="3" fill="url(#g3cb43c)"/></g>
<rect x="110" y="115" width="2" height="806" fill="#000"/>
<rect x="1121" y="115" width="3" height="806" fill="#000"/>
<rect x="109" y="925" width="1015" height="3" fill="#000"/>
<rect x="103" y="141.8" width="8" height="2.2" fill="#000"/>
<rect x="1122" y="141.7" width="7" height="2.2" fill="#000"/>
<rect x="103" y="343.8" width="8" height="2.2" fill="#000"/>
<rect x="1122" y="345.7" width="7" height="2.2" fill="#000"/>
<rect x="103" y="546.9" width="8" height="2.2" fill="#000"/>
<rect x="1122" y="546.9" width="7" height="2.2" fill="#000"/>
<rect x="103" y="749.8" width="8" height="2.2" fill="#000"/>
<rect x="1122" y="749.9" width="7" height="2.2" fill="#000"/>
<rect x="278.0" y="920" width="2" height="11" fill="#000"/>
<rect x="445.2" y="920" width="2" height="11" fill="#000"/>
<rect x="612.5" y="920" width="2" height="11" fill="#000"/>
<rect x="779.8" y="920" width="2" height="11" fill="#000"/>
<rect x="947.0" y="920" width="2" height="11" fill="#000"/>
<polyline points="279.0,158.3 942.0,155.8" fill="none" stroke="#7cae00" stroke-width="7.3" stroke-linejoin="round" stroke-linecap="butt"/>
<polyline points="279.1,350.9 285.2,349.8 292.9,345.5 305.0,344.8 315.7,342.2 326.4,338.4 338.6,335.6 350.8,331.8 366.0,327.3 381.3,323.1 398.0,318.1 410.2,315.1 422.4,311.3 431.6,306.7 440.0,303.5 455.2,298.5 467.4,293.5 475.0,291.6 491.8,281.7 504.0,277.9 514.7,272.1 525.4,268.0 539.1,260.4 555.9,256.3 562.0,255.1 572.6,249.7 586.3,246.2 604.6,241.3 614.6,237.0 622.2,236.2 634.4,229.4 648.1,224.8 658.8,221.7 671.0,216.4 683.2,214.1 692.3,213.4 704.5,208.8 715.2,204.2 728.9,201.9 741.1,198.9 759.4,196.6 767.0,192.3 780.0,190.4 801.3,185.1 825.7,182.0 844.0,180.5 860.8,179.8 868.4,175.9 894.3,172.9 902.0,169.8 924.8,167.5 941.8,168.3" fill="none" stroke="#c77cff" stroke-width="7.3" stroke-linejoin="round" stroke-linecap="butt"/>
<polyline points="279.1,637.3 289.8,638.5 298.2,635.7 305.8,639.5 314.2,637.6 326.4,638.0 337.1,639.5 346.2,637.6 361.5,635.0 378.2,633.4 385.9,628.1 399.6,624.3 411.8,622.0 420.9,616.2 431.6,610.6 440.0,606.2 446.4,603.8 452.8,596.6 460.8,592.6 478.5,580.6 488.1,570.2 494.5,560.6 498.5,546.2 504.1,539.7 513.7,526.9 524.9,515.7 536.2,500.5 544.2,490.9 552.2,482.9 566.0,470.9 574.0,458.1 582.0,451.7 588.4,447.7 594.8,437.3 601.2,432.5 615.7,418.9 620.5,410.1 628.5,403.7 639.7,390.1 652.5,379.6 660.5,376.4 668.5,369.2 686.1,358.8 694.1,358.8 703.7,354.0 713.4,348.4 720.0,344.2 731.7,339.3 741.4,333.5 758.9,328.6 770.6,323.7 782.3,318.3 788.2,318.3 797.9,314.6 805.7,312.4 815.4,307.2 829.1,302.7 846.6,297.4 860.2,291.6 870.0,284.8 893.3,276.0 903.1,269.2 922.5,264.3 941.8,256.7" fill="none" stroke="#00bfc4" stroke-width="7.3" stroke-linejoin="round" stroke-linecap="butt"/>
<polyline points="278.8,886.2 299.2,885.2 328.4,883.3 351.8,879.4 367.4,876.5 377.1,874.1 396.6,873.0 421.9,868.7 435.5,865.2 445.3,862.8 458.9,857.0 476.4,847.3 480.0,844.1 492.8,836.6 499.5,826.1 507.0,820.9 513.0,812.6 525.0,805.9 532.6,799.8 541.6,793.8 552.8,785.3 560.3,790.1 573.1,783.3 588.1,777.3 594.1,774.3 604.6,763.8 613.6,755.6 619.6,745.8 625.6,736.0 631.7,724.8 640.0,706.0 645.2,697.4 652.8,676.4 664.2,659.3 675.6,638.4 687.1,613.7 700.4,594.7 708.0,579.4 719.4,566.1 727.0,553.8 734.6,548.1 741.2,527.9 750.5,513.9 759.8,500.8 772.8,488.7 785.9,475.7 793.3,474.8 810.1,461.7 817.6,457.1 834.3,446.8 845.5,437.5 860.4,431.4 873.4,426.3 888.3,417.9 897.7,413.3 903.2,410.5 908.8,410.9 921.9,405.8 941.8,399.3" fill="none" stroke="#f8766d" stroke-width="7.3" stroke-linejoin="round" stroke-linecap="butt"/>
<line x1="443.1" y1="43.7" x2="311.3" y2="108.8" stroke="#000" stroke-width="4" stroke-linecap="round"/><polygon points="291.1,118.8 313.8,98.3 311.3,108.8 321.0,113.4" fill="#000"/>
<line x1="803.9" y1="43.7" x2="935.7" y2="108.8" stroke="#000" stroke-width="4" stroke-linecap="round"/><polygon points="955.9,118.8 933.2,98.3 935.7,108.8 926.0,113.4" fill="#000"/>
<line x1="970.4" y1="162.3" x2="950.1" y2="157.8" stroke="#000" stroke-width="2.1" stroke-linecap="round"/><polygon points="942.0,156.0 953.9,154.4 950.1,157.8 951.8,162.4" fill="#000"/>
<line x1="974.1" y1="211.3" x2="947.3" y2="174.7" stroke="#000" stroke-width="2.1" stroke-linecap="round"/><polygon points="941.8,167.2 952.2,174.5 947.3,174.7 945.2,180.5" fill="#000"/>
<line x1="970.9" y1="316.7" x2="945.3" y2="263.4" stroke="#000" stroke-width="2.1" stroke-linecap="round"/><polygon points="940.2,252.8 951.0,265.1 945.3,263.4 942.3,269.2" fill="#000"/>
<line x1="975.4" y1="418.1" x2="949.6" y2="402.7" stroke="#000" stroke-width="2.1" stroke-linecap="round"/><polygon points="941.6,397.9 954.0,401.2 949.6,402.7 949.6,408.8" fill="#000"/>
<text x="48.60" y="152.30" font-size="26" textLength="49.70" lengthAdjust="spacingAndGlyphs">1.00</text>
<text x="1132.30" y="152.30" font-size="26" textLength="49.00" lengthAdjust="spacingAndGlyphs">1.00</text>
<text x="47.60" y="355.50" font-size="26" textLength="49.80" lengthAdjust="spacingAndGlyphs">0.75</text>
<text x="1131.30" y="355.50" font-size="26" textLength="50.00" lengthAdjust="spacingAndGlyphs">0.75</text>
<text x="47.60" y="557.35" font-size="26" textLength="50.70" lengthAdjust="spacingAndGlyphs">0.50</text>
<text x="1132.00" y="557.35" font-size="26" textLength="49.30" lengthAdjust="spacingAndGlyphs">0.50</text>
<text x="47.60" y="759.50" font-size="26" textLength="50.80" lengthAdjust="spacingAndGlyphs">0.25</text>
<text x="1132.00" y="759.50" font-size="26" textLength="49.30" lengthAdjust="spacingAndGlyphs">0.25</text>
<text x="250.30" y="951.30" font-size="26" textLength="57.40" lengthAdjust="spacingAndGlyphs">2000</text>
<text x="417.60" y="951.30" font-size="26" textLength="57.40" lengthAdjust="spacingAndGlyphs">2025</text>
<text x="585.30" y="951.30" font-size="26" textLength="56.60" lengthAdjust="spacingAndGlyphs">2050</text>
<text x="752.30" y="951.30" font-size="26" textLength="57.40" lengthAdjust="spacingAndGlyphs">2075</text>
<text x="919.60" y="951.30" font-size="26" textLength="57.40" lengthAdjust="spacingAndGlyphs">2100</text>
<text x="581.40" y="985.00" font-size="29.2" textLength="57.90" lengthAdjust="spacingAndGlyphs">Year</text>
<text x="477.90" y="24.40" font-size="29.25" textLength="288.10" lengthAdjust="spacingAndGlyphs">snapshots from model</text>
<text x="459.10" y="60.30" font-size="29.25" textLength="326.90" lengthAdjust="spacingAndGlyphs">output visualization video</text>
<text x="144.90" y="217.70" font-size="26" textLength="133.40" lengthAdjust="spacingAndGlyphs">Temperate</text>
<text x="129.30" y="248.70" font-size="26" textLength="165.70" lengthAdjust="spacingAndGlyphs">broad-leaved</text>
<text x="167.90" y="405.10" font-size="26" textLength="74.20" lengthAdjust="spacingAndGlyphs">Mixed</text>
<text x="140.30" y="436.10" font-size="26" textLength="130.30" lengthAdjust="spacingAndGlyphs">temperate</text>
<text x="173.50" y="636.90" font-size="26" textLength="73.90" lengthAdjust="spacingAndGlyphs">Mixed</text>
<text x="128.50" y="667.70" font-size="26" textLength="163.60" lengthAdjust="spacingAndGlyphs">mountainous</text>
<text x="176.20" y="790.70" font-size="26" textLength="78.20" lengthAdjust="spacingAndGlyphs">Alpine</text>
<text x="126.00" y="821.60" font-size="26" textLength="177.70" lengthAdjust="spacingAndGlyphs">needle-leaved</text>
<text transform="translate(25.8,517.35) rotate(-90)" x="0" y="0" font-size="29.2" text-anchor="middle">Relative proportion of broad−leaved trees</text>
</svg></body></html>
